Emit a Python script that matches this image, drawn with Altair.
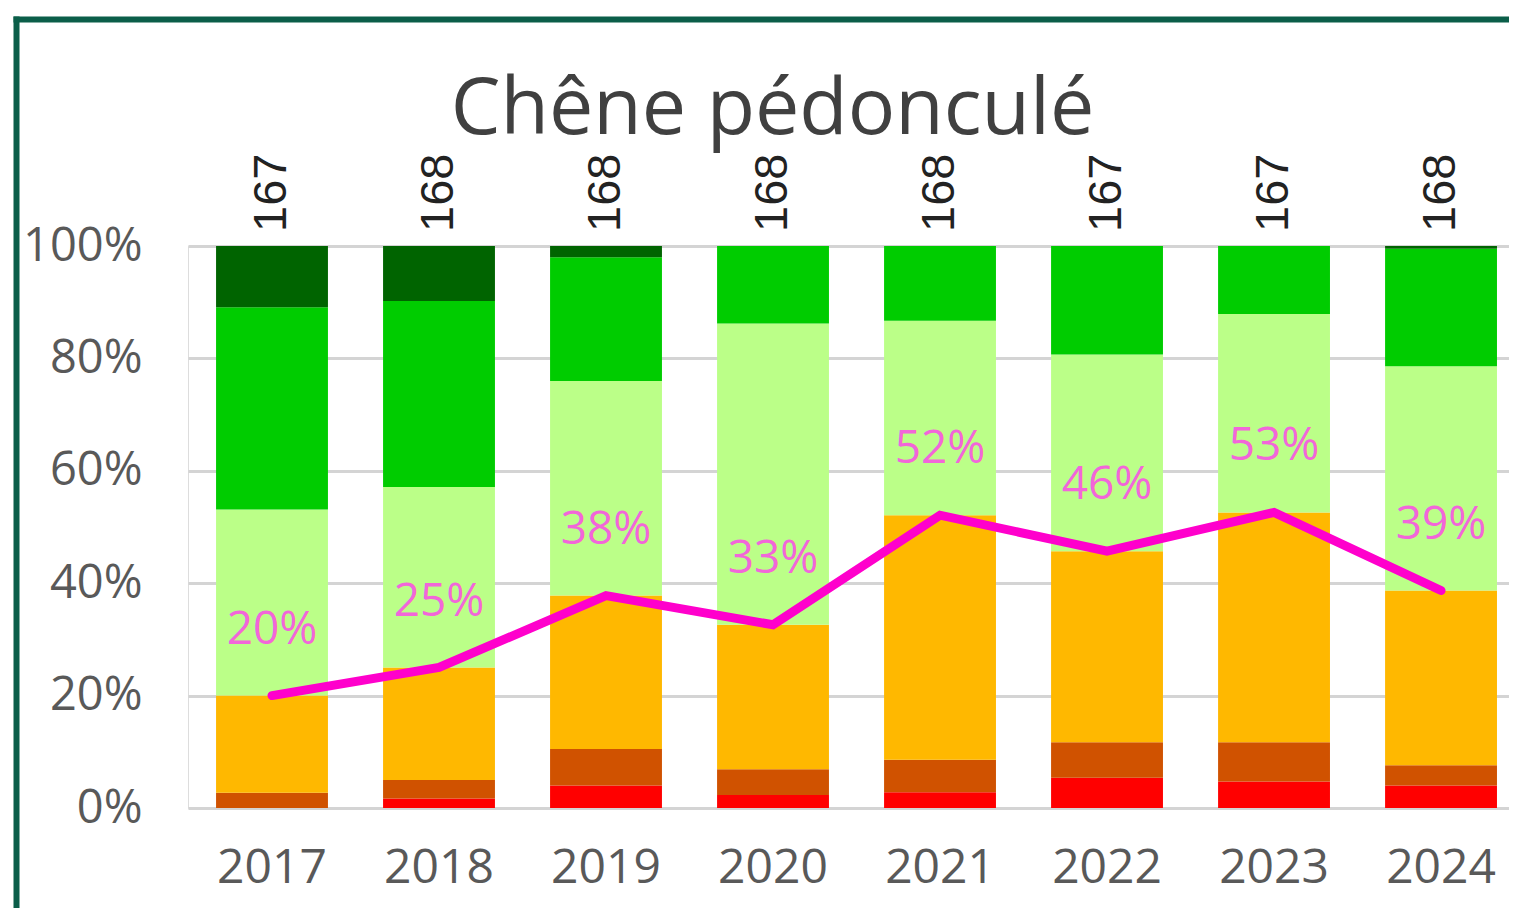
import altair as alt
import pandas as pd

years = ["2017", "2018", "2019", "2020", "2021", "2022", "2023", "2024"]
counts = [167, 168, 168, 168, 168, 167, 167, 168]

classes = ["c_rouge", "c_brun", "c_orange", "c_vert_clair", "c_vert", "c_vert_fonce"]
class_colors = ["#ff0000", "#d05200", "#ffb800", "#bbff88", "#00cc00", "#006400"]

s_rouge = [0.0, 1.7, 4.0, 2.3, 2.8, 5.4, 4.7, 4.0]
s_brun = [2.7, 3.3, 6.5, 4.6, 5.8, 6.3, 7.0, 3.6]
s_orange = [17.3, 20.0, 27.3, 25.7, 43.5, 34.0, 40.9, 31.1]
s_vert_clair = [33.1, 32.1, 38.2, 53.6, 34.6, 35.0, 35.3, 39.9]
s_vert = [36.0, 33.1, 22.0, 13.8, 13.3, 19.3, 12.1, 20.9]
s_vert_fonce = [10.9, 9.8, 2.0, 0.0, 0.0, 0.0, 0.0, 0.5]

line_values = [20.0, 25.0, 37.8, 32.6, 52.1, 45.7, 52.6, 38.7]
line_labels = ["20%", "25%", "38%", "33%", "52%", "46%", "53%", "39%"]

title_text = "Chêne pédonculé"
y_ticks = [0, 20, 40, 60, 80, 100]

series = [s_rouge, s_brun, s_orange, s_vert_clair, s_vert, s_vert_fonce]
rows = []
for ci, (cname, vals) in enumerate(zip(classes, series)):
    for yr, v in zip(years, vals):
        rows.append({"year": yr, "cls": cname, "order": ci, "value": v})
bars_df = pd.DataFrame(rows)

line_df = pd.DataFrame({"year": years, "value": line_values, "label": line_labels,
                        "n": [str(c) for c in counts], "top": [100] * len(years)})

W, H = 1321, 562
FONT = "Open Sans"

x_enc = alt.X("year:N", sort=years,
              scale=alt.Scale(paddingInner=0.33, paddingOuter=0.12, align=0.7),
              axis=alt.Axis(title=None, labelAngle=0, labelFontSize=48, labelFont=FONT,
                            labelColor="#595959", labelPadding=36, ticks=False,
                            domain=False, grid=False))
y_scale = alt.Scale(domain=[0, 100], nice=False)

bars = alt.Chart(bars_df).mark_bar().encode(
    x=x_enc,
    y=alt.Y("value:Q", stack="zero", scale=y_scale,
            axis=alt.Axis(title=None, values=y_ticks, labelExpr="datum.value + '%'",
                          labelFontSize=47, labelFont=FONT, labelColor="#595959",
                          labelPadding=46, ticks=False, domain=False,
                          grid=True, gridColor="#d4d4d4", gridWidth=3)),
    color=alt.Color("cls:N", scale=alt.Scale(domain=classes, range=class_colors), legend=None),
    order=alt.Order("order:Q"),
)

line = alt.Chart(line_df).mark_line(color="#ff00cc", strokeWidth=9, strokeCap="round").encode(
    x=alt.X("year:N", sort=years), y=alt.Y("value:Q", scale=y_scale))

pct_text = alt.Chart(line_df).mark_text(fontSize=46, font=FONT, color="#f266d9",
                                        baseline="middle", dy=-66).encode(
    x=alt.X("year:N", sort=years), y=alt.Y("value:Q", scale=y_scale), text="label:N")

n_text = alt.Chart(line_df).mark_text(fontSize=47, font="Liberation Sans", color="#222222",
                                      angle=270, align="left", baseline="middle", dx=14).encode(
    x=alt.X("year:N", sort=years), y=alt.Y("top:Q", scale=y_scale), text="n:N")

deco = pd.DataFrame({"k": [0]})
left_border = alt.Chart(deco).mark_rule(color="#0b5e49", strokeWidth=6).encode(
    x=alt.value(-171.5), y=alt.value(-229.5), y2=alt.value(H + 110))
top_border = alt.Chart(deco).mark_rule(color="#0b5e49", strokeWidth=6).encode(
    x=alt.value(-174.5), x2=alt.value(W + 5), y=alt.value(-226.5))

chart = alt.layer(bars, line, pct_text, n_text, left_border, top_border).properties(
    width=W, height=H,
    title=alt.TitleParams(title_text, fontSize=79, font=FONT, color="#404040",
                          fontWeight="normal", anchor="middle", dx=-76, offset=2, dy=139),
    autosize=alt.AutoSizeParams(type="none"),
    padding={"left": 180, "top": 238, "right": 0, "bottom": 100},
).configure_view(stroke=None).configure(background="white")

chart.save("out.html", embed_options={"renderer": "svg", "actions": False})
